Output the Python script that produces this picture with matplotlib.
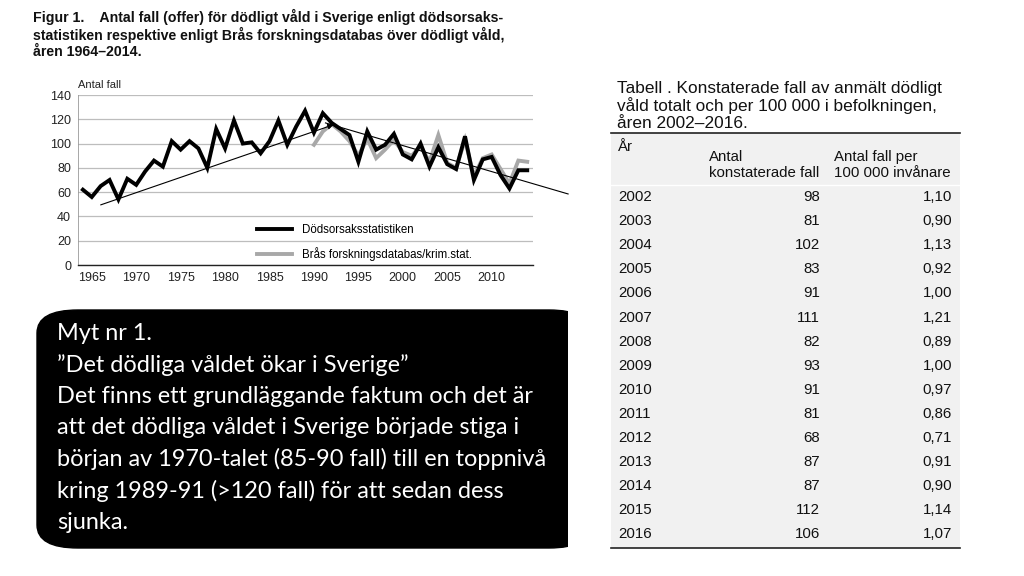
import matplotlib.pyplot as plt
from matplotlib.patches import Rectangle, FancyBboxPatch

# chart data
years_dod = list(range(1964, 2015))
dodsorsak = [62, 56, 65, 70, 54, 71, 66, 77, 86, 81,
             102, 95, 102, 96, 80, 112, 96, 119, 100, 101,
             92, 102, 119, 99, 114, 127, 109, 125, 117, 112,
             107, 85, 110, 95, 99, 108, 91, 87, 100, 81,
             97, 83, 79, 106, 70, 87, 89, 74, 63, 78, 78]
years_bra = list(range(1990, 2015))
bra = [99, 110, 116, 110, 102, 90, 104, 88, 95, 103,
       93, 90, 98, 85, 107, 84, 80, 103, 73, 88,
       91, 79, 67, 86, 85]

# hand drawn trend lines (year, value)
trend_up = [(1966.0, 49.5), (1992.2, 115.5)]
trend_down = [(1991.3, 117.0), (2018.6, 58.5)]

# table data
tab_years = ['2002', '2003', '2004', '2005', '2006', '2007', '2008', '2009',
             '2010', '2011', '2012', '2013', '2014', '2015', '2016']
tab_antal = ['98', '81', '102', '83', '91', '111', '82', '93',
             '91', '81', '68', '87', '87', '112', '106']
tab_per100k = ['1,10', '0,90', '1,13', '0,92', '1,00', '1,21', '0,89', '1,00',
               '0,97', '0,86', '0,71', '0,91', '0,90', '1,14', '1,07']

W, H = 1024, 576


def fx(x):
    return x / W


def fy(y):
    return 1 - y / H


fig = plt.figure(figsize=(W / 100, H / 100), dpi=100)
fig.patch.set_facecolor('white')

narrow = ['Liberation Sans Narrow', 'Liberation Sans', 'DejaVu Sans']

# figure caption
caption = ['Figur 1.    Antal fall (offer) för dödligt våld i Sverige enligt dödsorsaks-',
           'statistiken respektive enligt Brås forskningsdatabas över dödligt våld,',
           'åren 1964\u20132014.']
for i, line in enumerate(caption):
    fig.text(fx(33), fy(17 + i * 17.5), line, fontsize=10.2, fontweight='bold',
             family=narrow, va='center', ha='left', color='#111111')

# line chart
ax = fig.add_axes([fx(78), fy(265), (533 - 78) / W, (265 - 95) / H])
ax.set_xlim(1963.45, 2014.65)
ax.set_ylim(0, 140)
ax.set_yticks(range(0, 141, 20))
ax.set_xticks(range(1965, 2011, 5))
ax.grid(axis='y', color='#bdbdbd', lw=0.9)
ax.set_axisbelow(True)
for s in ['top', 'right']:
    ax.spines[s].set_visible(False)
ax.spines['left'].set_color('#999999')
ax.spines['left'].set_linewidth(0.6)
ax.spines['bottom'].set_color('#222222')
ax.spines['bottom'].set_linewidth(1.0)
ax.tick_params(length=0, labelsize=9, colors='#222222', pad=5)
for lab in ax.get_xticklabels() + ax.get_yticklabels():
    lab.set_family(narrow)

ax.plot(years_bra, bra, color='#a8a8a8', lw=2.8, solid_joinstyle='miter',
        label='Brås forskningsdatabas/krim.stat.')
ax.plot(years_dod, dodsorsak, color='black', lw=2.8, solid_joinstyle='miter',
        label='Dödsorsaksstatistiken')

ax.annotate('', xy=trend_up[1], xytext=trend_up[0],
            arrowprops=dict(arrowstyle='-|>', lw=0.8, color='black',
                            mutation_scale=8, shrinkA=0, shrinkB=0))
ax.plot([p[0] for p in trend_down], [p[1] for p in trend_down],
        color='black', lw=0.8, clip_on=False)

ax.text(0, 1.06, 'Antal fall', transform=ax.transAxes, fontsize=8,
        family=narrow, ha='left', va='center', color='#222222')

handles, labels = ax.get_legend_handles_labels()
leg = ax.legend(handles[::-1], labels[::-1], loc='upper left',
                bbox_to_anchor=((257 - 78) / 455, (265 - 224) / 170),
                frameon=False, handlelength=3.0,
                handletextpad=0.9, labelspacing=1.0, borderpad=0,
                borderaxespad=0, prop={'family': narrow, 'size': 8.3})

# black text box
box = FancyBboxPatch((fx(37), fy(548)), fx(590) - fx(37), fy(310) - fy(548),
                     boxstyle='round,pad=0,rounding_size=0.04',
                     transform=fig.transFigure, facecolor='black',
                     edgecolor='black', zorder=1)
clip = Rectangle((0, 0), fx(568), 1, transform=fig.transFigure)
fig.patches.append(box)
box.set_clip_path(clip)

box_lines = ['Myt nr 1.',
             '\u201dDet dödliga våldet ökar i Sverige\u201d',
             'Det finns ett grundläggande faktum och det är',
             'att det dödliga våldet i Sverige började stiga i',
             'början av 1970-talet (85-90 fall) till en toppnivå',
             'kring 1989-91 (>120 fall) för att sedan dess',
             'sjunka.']
for i, line in enumerate(box_lines):
    fig.text(fx(57), fy(333 + i * 31.6), line, fontsize=16.9, color='white',
             family=['Lato', 'DejaVu Sans'], va='center', ha='left', zorder=2)

# table
tab_title = ['Tabell . Konstaterade fall av anmält dödligt',
             'våld totalt och per 100 000 i befolkningen,',
             'åren 2002\u20132016.']
for i, line in enumerate(tab_title):
    fig.text(fx(617), fy(88 + i * 18), line, fontsize=12.4, color='#111111',
             family=['Liberation Sans', 'DejaVu Sans'], va='center', ha='left')

fig.patches.append(Rectangle((fx(611), fy(548)), fx(960) - fx(611),
                             fy(133) - fy(548), transform=fig.transFigure,
                             facecolor='#f1f1f1', edgecolor='none', zorder=0))
fig.add_artist(plt.Line2D([fx(611), fx(960)], [fy(133), fy(133)],
                          color='#222222', lw=1.2, transform=fig.transFigure))
fig.add_artist(plt.Line2D([fx(611), fx(960)], [fy(548), fy(548)],
                          color='#222222', lw=1.2, transform=fig.transFigure))
fig.add_artist(plt.Line2D([fx(611), fx(960)], [fy(185), fy(185)],
                          color='white', lw=1.0, transform=fig.transFigure))

tfont = ['Liberation Sans', 'DejaVu Sans']
ts = 10.8
fig.text(fx(618), fy(147), 'År', fontsize=ts, family=tfont, va='center',
         color='#111111')
fig.text(fx(709), fy(157), 'Antal', fontsize=ts, family=tfont, va='center',
         color='#111111')
fig.text(fx(709), fy(173), 'konstaterade fall', fontsize=ts, family=tfont,
         va='center', color='#111111')
fig.text(fx(834), fy(157), 'Antal fall per', fontsize=ts, family=tfont,
         va='center', color='#111111')
fig.text(fx(834), fy(173), '100 000 invånare', fontsize=ts, family=tfont,
         va='center', color='#111111')

for i in range(len(tab_years)):
    y = fy(197 + i * 24.1)
    fig.text(fx(618), y, tab_years[i], fontsize=ts, family=tfont,
             va='center', ha='left', color='#111111')
    fig.text(fx(820), y, tab_antal[i], fontsize=ts, family=tfont,
             va='center', ha='right', color='#111111')
    fig.text(fx(952), y, tab_per100k[i], fontsize=ts, family=tfont,
             va='center', ha='right', color='#111111')

fig.savefig('out.png', dpi=100)
